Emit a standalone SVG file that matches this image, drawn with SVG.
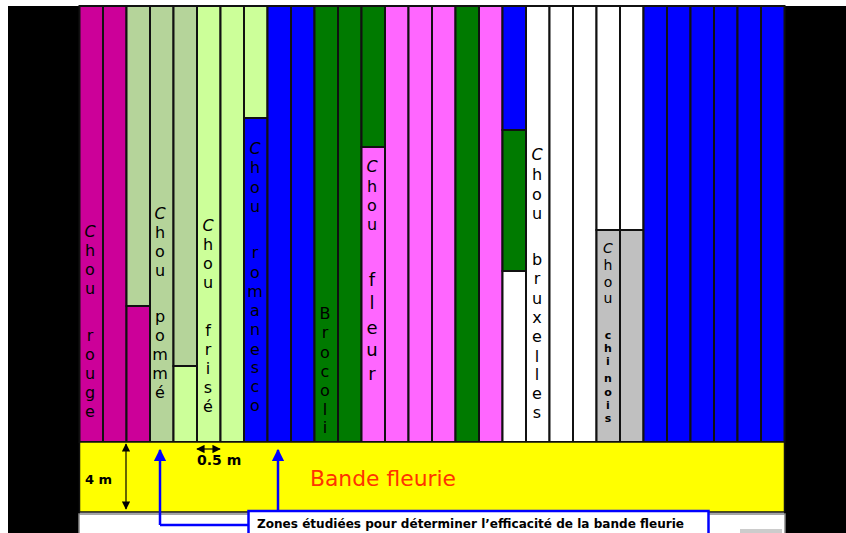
<svg xmlns="http://www.w3.org/2000/svg" width="846" height="533" viewBox="0 0 846 533">
<defs>
<style>
.c{stroke:#111;stroke-width:2}
.mg{fill:#CC0099}.lg{fill:#B5D49A}.lm{fill:#CCFF99}.bl{fill:#0000FF}.gr{fill:#007A00}.pk{fill:#FF66FF}.wh{fill:#FFFFFF}.gy{fill:#C0C0C0}
.lab{font-family:"Comic Sans MS","DejaVu Sans",sans-serif;font-size:16px;fill:#000;text-anchor:middle}
.it{font-style:italic}
.sm{font-size:11px;font-weight:bold}
.dim{font-family:"DejaVu Sans","Liberation Sans",sans-serif;font-weight:bold;font-size:13px;fill:#000}
.blue{stroke:#0000FF;stroke-width:2.5;fill:none}
</style>
<marker id="ab" viewBox="0 0 10 10" refX="9" refY="5" markerWidth="5" markerHeight="5" orient="auto-start-reverse" markerUnits="strokeWidth"><path d="M0,0 L10,5 L0,10 Z" fill="#0000FF"/></marker>
<marker id="ak" viewBox="0 0 10 10" refX="9" refY="5" markerWidth="7" markerHeight="7" orient="auto-start-reverse" markerUnits="strokeWidth"><path d="M0,0 L10,5 L0,10 Z" fill="#000"/></marker>
</defs>
<rect x="0" y="0" width="846" height="533" fill="#fff"/>
<rect x="8" y="6" width="72" height="527" fill="#000"/>
<rect x="784" y="6" width="62" height="527" fill="#000"/>
<rect x="79" y="514" width="706" height="22" fill="#fff" stroke="#888" stroke-width="1.5"/>
<rect x="740" y="529" width="42" height="4" fill="#ccc"/>
<g id="field">
<g id="col1"><rect class="c mg" x="79.5" y="6" width="23.5" height="436"/></g>
<g id="col2"><rect class="c mg" x="103" y="6" width="23.5" height="436"/></g>
<g id="col3"><rect class="c lg" x="126.5" y="6" width="23.5" height="300"/><rect class="c mg" x="126.5" y="306" width="23.5" height="136"/></g>
<g id="col4"><rect class="c lg" x="150" y="6" width="23.5" height="436"/></g>
<g id="col5"><rect class="c lg" x="173.5" y="6" width="23.5" height="360"/><rect class="c lm" x="173.5" y="366" width="23.5" height="76"/></g>
<g id="col6"><rect class="c lm" x="197" y="6" width="23.5" height="436"/></g>
<g id="col7"><rect class="c lm" x="220.5" y="6" width="23.5" height="436"/></g>
<g id="col8"><rect class="c lm" x="244" y="6" width="23.5" height="112"/><rect class="c bl" x="244" y="118" width="23.5" height="324"/></g>
<g id="col9"><rect class="c bl" x="267.5" y="6" width="23.5" height="436"/></g>
<g id="col10"><rect class="c bl" x="291" y="6" width="23.5" height="436"/></g>
<g id="col11"><rect class="c gr" x="314.5" y="6" width="23.5" height="436"/></g>
<g id="col12"><rect class="c gr" x="338" y="6" width="23.5" height="436"/></g>
<g id="col13"><rect class="c gr" x="361.5" y="6" width="23.5" height="141"/><rect class="c pk" x="361.5" y="147" width="23.5" height="295"/></g>
<g id="col14"><rect class="c pk" x="385" y="6" width="23.5" height="436"/></g>
<g id="col15"><rect class="c pk" x="408.5" y="6" width="23.5" height="436"/></g>
<g id="col16"><rect class="c pk" x="432" y="6" width="23.5" height="436"/></g>
<g id="col17"><rect class="c gr" x="455.5" y="6" width="23.5" height="436"/></g>
<g id="col18"><rect class="c pk" x="479" y="6" width="23.5" height="436"/></g>
<g id="col19"><rect class="c bl" x="502.5" y="6" width="23.5" height="124"/><rect class="c gr" x="502.5" y="130" width="23.5" height="141"/><rect class="c wh" x="502.5" y="271" width="23.5" height="171"/></g>
<g id="col20"><rect class="c wh" x="526" y="6" width="23.5" height="436"/></g>
<g id="col21"><rect class="c wh" x="549.5" y="6" width="23.5" height="436"/></g>
<g id="col22"><rect class="c wh" x="573" y="6" width="23.5" height="436"/></g>
<g id="col23"><rect class="c wh" x="596.5" y="6" width="23.5" height="224"/><rect class="c gy" x="596.5" y="230" width="23.5" height="212"/></g>
<g id="col24"><rect class="c wh" x="620" y="6" width="23.5" height="224"/><rect class="c gy" x="620" y="230" width="23.5" height="212"/></g>
<g id="col25"><rect class="c bl" x="643.5" y="6" width="23.5" height="436"/></g>
<g id="col26"><rect class="c bl" x="667" y="6" width="23.5" height="436"/></g>
<g id="col27"><rect class="c bl" x="690.5" y="6" width="23.5" height="436"/></g>
<g id="col28"><rect class="c bl" x="714" y="6" width="23.5" height="436"/></g>
<g id="col29"><rect class="c bl" x="737.5" y="6" width="23.5" height="436"/></g>
<g id="col30"><rect class="c bl" x="761" y="6" width="23.5" height="436"/></g>
</g>
<g id="labels">
<text id="lab-rouge" class="lab"><tspan class="it" x="90" y="237">C</tspan><tspan x="90" y="256">h</tspan><tspan x="90" y="275">o</tspan><tspan x="90" y="294">u</tspan><tspan x="90" y="341">r</tspan><tspan x="90" y="360">o</tspan><tspan x="90" y="379">u</tspan><tspan x="90" y="398">g</tspan><tspan x="90" y="417">e</tspan></text>
<text id="lab-pomme" class="lab"><tspan class="it" x="160" y="219">C</tspan><tspan x="160" y="238">h</tspan><tspan x="160" y="257">o</tspan><tspan x="160" y="276">u</tspan><tspan x="160" y="322">p</tspan><tspan x="160" y="341">o</tspan><tspan x="160" y="360">m</tspan><tspan x="160" y="379">m</tspan><tspan x="160" y="398">é</tspan></text>
<text id="lab-frise" class="lab"><tspan class="it" x="208" y="231">C</tspan><tspan x="208" y="250">h</tspan><tspan x="208" y="269">o</tspan><tspan x="208" y="288">u</tspan><tspan x="208" y="336">f</tspan><tspan x="208" y="355">r</tspan><tspan x="208" y="374">i</tspan><tspan x="208" y="393">s</tspan><tspan x="208" y="412">é</tspan></text>
<text id="lab-romanesco" class="lab"><tspan class="it" x="255" y="154">C</tspan><tspan x="255" y="173">h</tspan><tspan x="255" y="193">o</tspan><tspan x="255" y="212">u</tspan><tspan x="255" y="258">r</tspan><tspan x="255" y="278">o</tspan><tspan x="255" y="297">m</tspan><tspan x="255" y="316">a</tspan><tspan x="255" y="335">n</tspan><tspan x="255" y="355">e</tspan><tspan x="255" y="373">s</tspan><tspan x="255" y="392">c</tspan><tspan x="255" y="411">o</tspan></text>
<text id="lab-brocoli" class="lab"><tspan x="325" y="319">B</tspan><tspan x="325" y="338">r</tspan><tspan x="325" y="358">o</tspan><tspan x="325" y="377">c</tspan><tspan x="325" y="396">o</tspan><tspan x="325" y="415">l</tspan><tspan x="325" y="433">i</tspan></text>
<text id="lab-fleur" class="lab"><tspan class="it" x="372" y="172">C</tspan><tspan x="372" y="192">h</tspan><tspan x="372" y="211">o</tspan><tspan x="372" y="230">u</tspan><tspan x="372" y="286" style="font-size:18px">f</tspan><tspan x="372" y="309" style="font-size:18px">l</tspan><tspan x="372" y="334" style="font-size:18px">e</tspan><tspan x="372" y="356" style="font-size:18px">u</tspan><tspan x="372" y="380" style="font-size:18px">r</tspan></text>
<text id="lab-bruxelles" class="lab"><tspan class="it" x="537" y="160">C</tspan><tspan x="537" y="180">h</tspan><tspan x="537" y="200">o</tspan><tspan x="537" y="219">u</tspan><tspan x="537" y="265">b</tspan><tspan x="537" y="284">r</tspan><tspan x="537" y="304">u</tspan><tspan x="537" y="323">x</tspan><tspan x="537" y="342">e</tspan><tspan x="537" y="362">l</tspan><tspan x="537" y="380">l</tspan><tspan x="537" y="399">e</tspan><tspan x="537" y="418">s</tspan></text>
<text id="lab-chinois" class="lab" style="font-size:14px"><tspan class="it" x="608" y="253">C</tspan><tspan x="608" y="270">h</tspan><tspan x="608" y="287">o</tspan><tspan x="608" y="303">u</tspan><tspan class="sm" x="608" y="339">c</tspan><tspan class="sm" x="608" y="352">h</tspan><tspan class="sm" x="608" y="365">i</tspan><tspan class="sm" x="608" y="382">n</tspan><tspan class="sm" x="608" y="396">o</tspan><tspan class="sm" x="608" y="409">i</tspan><tspan class="sm" x="608" y="422">s</tspan></text>
</g>
<g id="bande">
<rect x="79.5" y="442" width="705" height="70" fill="#FFFF00" stroke="#111" stroke-width="1.5"/>
<text x="310" y="486" font-family="Comic Sans MS, DejaVu Sans, sans-serif" font-size="21" fill="#FF3300" textLength="146" lengthAdjust="spacingAndGlyphs">Bande fleurie</text>
<text class="dim" x="85" y="484">4 m</text>
<text class="dim" x="197" y="465" style="font-size:14px">0.5 m</text>
</g>
<g id="callout">
<rect x="248.5" y="511" width="460" height="30" fill="#fff" stroke="#0000FF" stroke-width="2.5"/>
<text x="257" y="528" font-family="DejaVu Sans, Liberation Sans, sans-serif" font-weight="bold" font-size="12.5" fill="#000" textLength="427" lengthAdjust="spacingAndGlyphs">Zones étudiées pour déterminer l’efficacité de la bande fleurie</text>
</g>
<g id="connectors">
<path class="blue" d="M160,525 V450" marker-end="url(#ab)"/>
<path class="blue" d="M160,525 H248"/>
<path class="blue" d="M278,510 V450" marker-end="url(#ab)"/>
<path d="M126,444 V509" stroke="#000" stroke-width="1.2" fill="none" marker-start="url(#ak)" marker-end="url(#ak)"/>
<path d="M197,449 H220" stroke="#000" stroke-width="1.2" fill="none" marker-start="url(#ak)" marker-end="url(#ak)"/>
</g>
</svg>
